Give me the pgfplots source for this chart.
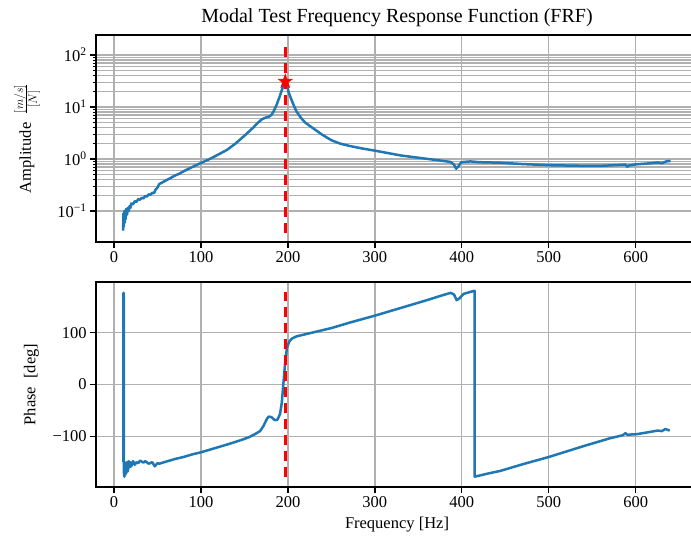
\documentclass[border=0pt]{standalone}
\usepackage{fontspec}
\setmainfont{Liberation Serif}
\usepackage{pgfplots}
\pgfplotsset{compat=1.18}
\usetikzlibrary{plotmarks}

\definecolor{mplblue}{HTML}{1F77B4}
\definecolor{gridgray}{HTML}{B0B0B0}

\pgfdeclareplotmark{fstar}{%
  \pgfpathmoveto{\pgfpointpolar{90}{\pgfplotmarksize}}%
  \pgfpathlineto{\pgfpointpolar{126}{0.4\pgfplotmarksize}}%
  \pgfpathlineto{\pgfpointpolar{162}{\pgfplotmarksize}}%
  \pgfpathlineto{\pgfpointpolar{198}{0.4\pgfplotmarksize}}%
  \pgfpathlineto{\pgfpointpolar{234}{\pgfplotmarksize}}%
  \pgfpathlineto{\pgfpointpolar{270}{0.4\pgfplotmarksize}}%
  \pgfpathlineto{\pgfpointpolar{306}{\pgfplotmarksize}}%
  \pgfpathlineto{\pgfpointpolar{342}{0.4\pgfplotmarksize}}%
  \pgfpathlineto{\pgfpointpolar{18}{\pgfplotmarksize}}%
  \pgfpathlineto{\pgfpointpolar{54}{0.4\pgfplotmarksize}}%
  \pgfpathclose
  \pgfusepathqfillstroke}

\pgfplotsset{
  common/.style={
    scale only axis, width=602pt, xmin=-20.6, xmax=671.5,
    axis line style={line width=1.3pt, black},
    tick pos=left, tick align=outside,
    major tick length=5.8pt, minor tick length=3.4pt,
    every tick/.style={black, line width=1.3pt},
    every minor tick/.append style={line width=1pt},
    grid style={gridgray, line width=1.3pt},
    minor grid style={gridgray, line width=1.3pt},
    xmajorgrids=true, ymajorgrids=true,
    xtick={0,100,200,300,400,500,600},
    xticklabels={0,100,200,300,400,500,600},
    tick label style={font=\fontsize{16.5}{18}\selectfont},
    label style={font=\fontsize{16.5}{18}\selectfont},
    clip=true,
  },
  datline/.style={mplblue, line width=2.5pt, line join=round, no markers},
}

\pgfplotstableread{
f A
10.5 0.042
11 0.09
11.5 0.05
12 0.1
12.5 0.06
13 0.095
13.5 0.07
14 0.11
15 0.085
16 0.115
17 0.1
18 0.125
19 0.115
20 0.14
22 0.135
24 0.155
26 0.15
28 0.17
30 0.165
32 0.18
34 0.175
36 0.195
38 0.19
40 0.21
42 0.205
44 0.225
46 0.22
48 0.26
50 0.28
52 0.33
55 0.35
60 0.39
65 0.43
70 0.48
75 0.52
80 0.58
90 0.7
100 0.84
110 1.0
120 1.22
130 1.5
140 2.0
150 2.8
160 4.0
165 4.9
170 5.8
175 6.3
178 6.5
181 7.0
184 8.5
187 11
190 15
193 21
196 30
197 31
199 26
201 19
204 14
207 10.5
210 8.2
215 6.2
220 5.0
230 3.8
240 2.9
250 2.3
260 1.98
270 1.8
285 1.6
300 1.45
330 1.17
368 0.97
387 0.88
391 0.78
393.5 0.65
396 0.72
399 0.86
402 0.88
410 0.9
420 0.87
444 0.85
470 0.8
502 0.76
540 0.74
560 0.74
588 0.78
590 0.71
592 0.75
600 0.79
617 0.83
625 0.86
630 0.83
635 0.9
640 0.92
}\amptable

\pgfplotstableread{
f P
10.8 -150
11 177
11.3 177
11.5 -170
12 -178
12.5 -150
13 -175
13.5 -155
14 -172
15 -150
16 -168
17 -148
18 -160
19 -150
20 -158
22 -148
24 -155
26 -150
28 -152
30 -147
34 -151
36 -148
40 -153
44 -150
47 -158
50 -152
52 -153
60 -149
70 -144
80 -140
90 -135
100 -131
110 -126
120 -121
132 -115
145 -108
155 -102
162 -96
168 -90
172 -80
176 -66
178 -62
181 -63
185 -69
188 -68
191 -57
193 -35
195 5
197 45
199 72
202 84
205 89
210 93
230 101
250 109
272 120
300 133
320 143
342 154
360 163
375 171
387 177
391 174
394 163
397 166
402 175
410 179
414.7 181
414.8 -178
420 -176
430 -172
444 -167
470 -154
500 -140
540 -119
570 -104
585 -98
588 -94
590 -97
601 -96
615 -92
625 -89
630 -90
634 -86
639 -89
}\phasetable

\begin{document}
\begin{tikzpicture}
\useasboundingbox (0,0) rectangle (691pt,539pt);
\begin{axis}[common,
  at={(96pt,297pt)}, anchor=south west, height=207pt,
  ymode=log, ymin=0.0254, ymax=242.7,
  ytick={0.1,1,10,100},
  yticklabels={10\textsuperscript{−1},10\textsuperscript{0},10\textsuperscript{1},10\textsuperscript{2}},
  yminorgrids=true,
  ylabel={Amplitude\ \ $\frac{[m/s]}{[N]}$},
  ylabel style={at={(rel axis cs:0,0.5)}, anchor=center, rotate=0, xshift=0pt, yshift=69pt},
  title={Modal Test Frequency Response Function (FRF)},
  title style={at={(rel axis cs:0.5,1)}, anchor=center, yshift=11pt, font=\fontsize{20}{24}\selectfont},
]
\addplot[datline] table[x=f, y=A] {\amptable};
\addplot[red, line width=2.5pt, dash pattern=on 10pt off 6pt, no markers] coordinates {(197,0.038) (197,142)};
\addplot[only marks, mark=fstar, mark size=7pt, red, fill=red, line width=0.8pt] coordinates {(197,31)};
\end{axis}
\begin{axis}[common,
  at={(96pt,52pt)}, anchor=south west, height=205pt,
  ymin=-198, ymax=198,
  ytick={-100,0,100},
  yticklabels={−100,0,100},
  ylabel={Phase\ \ [deg]},
  ylabel style={at={(rel axis cs:0,0.5)}, anchor=center, xshift=0pt, yshift=64.5pt},
  xlabel={Frequency [Hz]},
  xlabel style={at={(rel axis cs:0.5,0)}, anchor=center, yshift=-38pt},
]
\addplot[datline] table[x=f, y=P] {\phasetable};
\addplot[red, line width=2.5pt, dash pattern=on 10pt off 6pt, no markers] coordinates {(197,-178) (197,178)};
\end{axis}
\end{tikzpicture}
\end{document}
